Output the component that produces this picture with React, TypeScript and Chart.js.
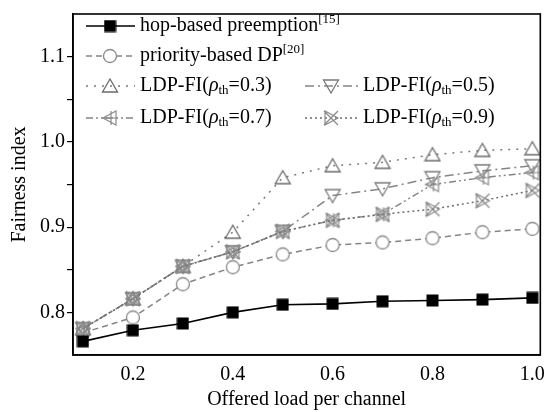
import React, { useEffect, useRef } from 'react';
import { Chart, registerables } from 'chart.js';
Chart.register(...registerables);

// ---- data ----
const loads = [0.1, 0.2, 0.3, 0.4, 0.5, 0.6, 0.7, 0.8, 0.9, 1.0];
const hopBased = [0.766, 0.779, 0.787, 0.800, 0.809, 0.810, 0.813, 0.814, 0.815, 0.817];
const priorityDP = [0.776, 0.794, 0.833, 0.853, 0.868, 0.879, 0.882, 0.887, 0.894, 0.898];
const ldp03 = [0.781, 0.816, 0.854, 0.894, 0.958, 0.972, 0.976, 0.985, 0.990, 0.992];
const ldp05 = [0.781, 0.816, 0.854, 0.871, 0.895, 0.937, 0.945, 0.958, 0.966, 0.972];
const ldp07 = [0.781, 0.816, 0.854, 0.871, 0.895, 0.908, 0.915, 0.950, 0.958, 0.964];
const ldp09 = [0.781, 0.816, 0.854, 0.871, 0.895, 0.908, 0.915, 0.921, 0.931, 0.943];
const xTicks = [0.2, 0.4, 0.6, 0.8, 1.0];
const yTicks = [0.8, 0.85, 0.9, 0.95, 1.0, 1.05, 1.1];
const seriesNames = [
  'hop-based preemption[15]',
  'priority-based DP[20]',
  'LDP-FI(ρth=0.3)',
  'LDP-FI(ρth=0.5)',
  'LDP-FI(ρth=0.7)',
  'LDP-FI(ρth=0.9)',
];
const xTitle = 'Offered load per channel';
const yTitle = 'Fairness index';

type Seg = { t: string; k?: 'sup' | 'sub' | 'it' };
const legendText: Seg[][] = [
  [{ t: 'hop-based preemption' }, { t: '[15]', k: 'sup' }],
  [{ t: 'priority-based DP' }, { t: '[20]', k: 'sup' }],
  [{ t: 'LDP-FI(' }, { t: 'ρ', k: 'it' }, { t: 'th', k: 'sub' }, { t: '=0.3)' }],
  [{ t: 'LDP-FI(' }, { t: 'ρ', k: 'it' }, { t: 'th', k: 'sub' }, { t: '=0.5)' }],
  [{ t: 'LDP-FI(' }, { t: 'ρ', k: 'it' }, { t: 'th', k: 'sub' }, { t: '=0.7)' }],
  [{ t: 'LDP-FI(' }, { t: 'ρ', k: 'it' }, { t: 'th', k: 'sub' }, { t: '=0.9)' }],
];

const FAMILY = "'Liberation Serif', 'Times New Roman', serif";
const FS = 20;
const GRAY = '#858585';

function mk(size: number, draw: (g: CanvasRenderingContext2D, s: number) => void) {
  const c = document.createElement('canvas');
  c.width = size;
  c.height = size;
  const g = c.getContext('2d')!;
  draw(g, size);
  return c;
}

function makeMarkers() {
  const square = mk(13, (g) => {
    g.fillStyle = '#000';
    g.fillRect(0.5, 0.5, 12, 12);
  });
  const circle = mk(16, (g) => {
    g.beginPath();
    g.arc(8, 8, 6.5, 0, Math.PI * 2);
    g.fillStyle = '#fff';
    g.fill();
    g.strokeStyle = '#8a8a8a';
    g.lineWidth = 1.3;
    g.stroke();
  });
  const triUp = mk(18, (g) => {
    g.beginPath();
    g.moveTo(9, 2);
    g.lineTo(1.5, 15);
    g.lineTo(16.5, 15);
    g.closePath();
    g.strokeStyle = '#6a6a6a';
    g.lineWidth = 1.3;
    g.stroke();
  });
  const triDown = mk(18, (g) => {
    g.beginPath();
    g.moveTo(1.5, 3);
    g.lineTo(16.5, 3);
    g.lineTo(9, 16);
    g.closePath();
    g.strokeStyle = '#7a7a7a';
    g.lineWidth = 1.3;
    g.stroke();
  });
  const triLeftPlus = mk(18, (g) => {
    g.beginPath();
    g.moveTo(2, 9);
    g.lineTo(15, 2);
    g.lineTo(15, 16);
    g.closePath();
    g.moveTo(10, 2);
    g.lineTo(10, 16);
    g.moveTo(1, 9);
    g.lineTo(17, 9);
    g.strokeStyle = '#8a8a8a';
    g.lineWidth = 1.2;
    g.stroke();
  });
  const triRightX = mk(18, (g) => {
    g.beginPath();
    g.moveTo(3, 2);
    g.lineTo(3, 16);
    g.lineTo(16, 9);
    g.closePath();
    g.moveTo(2, 2);
    g.lineTo(16, 16);
    g.moveTo(2, 16);
    g.lineTo(16, 2);
    g.strokeStyle = '#8a8a8a';
    g.lineWidth = 1.2;
    g.stroke();
  });
  return [square, circle, triUp, triDown, triLeftPlus, triRightX];
}

const legendLayout = [
  { x1: 86, x2: 135, mx: 110, tx: 140, y: 26 },
  { x1: 86, x2: 135, mx: 110, tx: 140, y: 56 },
  { x1: 86, x2: 135, mx: 110, tx: 140, y: 86 },
  { x1: 305, x2: 358, mx: 331, tx: 363, y: 86 },
  { x1: 86, x2: 135, mx: 110, tx: 140, y: 118 },
  { x1: 305, x2: 358, mx: 331, tx: 363, y: 118 },
];

function drawRich(ctx: CanvasRenderingContext2D, segs: Seg[], x: number, y: number) {
  let cx = x;
  ctx.fillStyle = '#000';
  ctx.textBaseline = 'middle';
  ctx.textAlign = 'left';
  for (const s of segs) {
    let size = FS;
    let dy = 0;
    let style = '';
    if (s.k === 'sup') { size = 13; dy = -6; }
    if (s.k === 'sub') { size = 13; dy = 5; }
    if (s.k === 'it') style = 'italic ';
    ctx.font = `${style}${size}px ${FAMILY}`;
    ctx.fillText(s.t, cx, y + dy);
    cx += ctx.measureText(s.t).width;
  }
}

export default function App() {
  const ref = useRef<HTMLCanvasElement | null>(null);
  useEffect(() => {
    if (!ref.current) return;
    const markers = makeMarkers();
    const series = [hopBased, priorityDP, ldp03, ldp05, ldp07, ldp09];
    const colors = ['#000', GRAY, '#7a7a7a', GRAY, GRAY, '#6e6e6e'];
    const dashes = [[], [6, 4], [2, 6], [9, 4, 2, 4], [7, 3, 2, 3, 2, 3], [2, 3]];
    const widths = [1.6, 1.5, 1.5, 1.5, 1.4, 1.5];
    const datasets = series.map((vals, i) => ({
      label: seriesNames[i],
      data: loads.map((x, j) => ({ x, y: vals[j] })),
      borderColor: colors[i],
      borderWidth: widths[i],
      borderDash: dashes[i],
      pointStyle: markers[i],
      pointRadius: 8,
      backgroundColor: colors[i],
      fill: false,
      tension: 0,
      order: i === 0 ? 0 : 6 - i,
    }));

    const framePlugin = {
      id: 'frame',
      afterDraw(chart: any) {
        const { ctx, chartArea: a } = chart;
        ctx.save();
        ctx.strokeStyle = '#000';
        ctx.lineWidth = 1.6;
        ctx.strokeRect(a.left, a.top, a.right - a.left, a.bottom - a.top);
        ctx.restore();
      },
    };

    const legendPlugin = {
      id: 'richLegend',
      afterDraw(chart: any) {
        const ctx: CanvasRenderingContext2D = chart.ctx;
        ctx.save();
        chart.data.datasets.forEach((ds: any, i: number) => {
          const L = legendLayout[i];
          ctx.beginPath();
          ctx.setLineDash(ds.borderDash || []);
          ctx.strokeStyle = ds.borderColor;
          ctx.lineWidth = ds.borderWidth;
          ctx.moveTo(L.x1, L.y);
          ctx.lineTo(L.x2, L.y);
          ctx.stroke();
          ctx.setLineDash([]);
          const m = ds.pointStyle as HTMLCanvasElement;
          ctx.drawImage(m, L.mx - m.width / 2, L.y - m.height / 2, m.width, m.height);
          drawRich(ctx, legendText[i], L.tx, L.y);
        });
        ctx.restore();
      },
    };

    const chart = new Chart(ref.current, {
      type: 'line',
      data: { datasets } as any,
      options: {
        animation: false,
        responsive: false,
        layout: { padding: { top: 8, right: 10, left: 0, bottom: 0 } },
        plugins: { legend: { display: false }, tooltip: { enabled: false } },
        scales: {
          x: {
            type: 'linear',
            min: 0.08,
            max: 1.016,
            afterBuildTicks: (s: any) => { s.ticks = xTicks.map((v) => ({ value: v })); },
            afterFit: (s: any) => { s.height = 57; },
            ticks: {
              color: '#000',
              font: { family: FAMILY, size: FS, lineHeight: 1.2 },
              padding: 8,
              maxRotation: 0,
              autoSkip: false,
              callback: (v: any) => Number(v).toFixed(1),
            },
            grid: { drawOnChartArea: false, drawTicks: false },
            border: { color: '#000', width: 1.6 },
            title: {
              display: true,
              text: xTitle,
              color: '#000',
              font: { family: FAMILY, size: FS, lineHeight: 1.2 },
              padding: { top: 0, bottom: 0 },
            },
          },
          y: {
            type: 'linear',
            min: 0.75,
            max: 1.15,
            afterBuildTicks: (s: any) => { s.ticks = yTicks.map((v) => ({ value: v })); },
            afterFit: (s: any) => { s.width = 73; },
            ticks: {
              color: '#000',
              font: { family: FAMILY, size: FS, lineHeight: 1.2 },
              padding: 2,
              autoSkip: false,
              callback: (v: any) => {
                const n = Number(v) * 10;
                return Math.abs(n - Math.round(n)) < 1e-6 ? Number(v).toFixed(1) : '';
              },
            },
            grid: { drawOnChartArea: false, drawTicks: true, tickLength: 6, color: '#000', lineWidth: 1.2 },
            border: { color: '#000', width: 1.6 },
            title: {
              display: true,
              text: yTitle,
              color: '#000',
              font: { family: FAMILY, size: FS, lineHeight: 1.2 },
              padding: { top: 8, bottom: 0 },
            },
          },
        },
      } as any,
      plugins: [framePlugin, legendPlugin],
    });
    return () => chart.destroy();
  }, []);

  return (
    <div style={{ position: 'fixed', left: 0, top: 0, width: 553, height: 412, background: '#fff' }}>
      <canvas ref={ref} width={553} height={412} />
    </div>
  );
}
